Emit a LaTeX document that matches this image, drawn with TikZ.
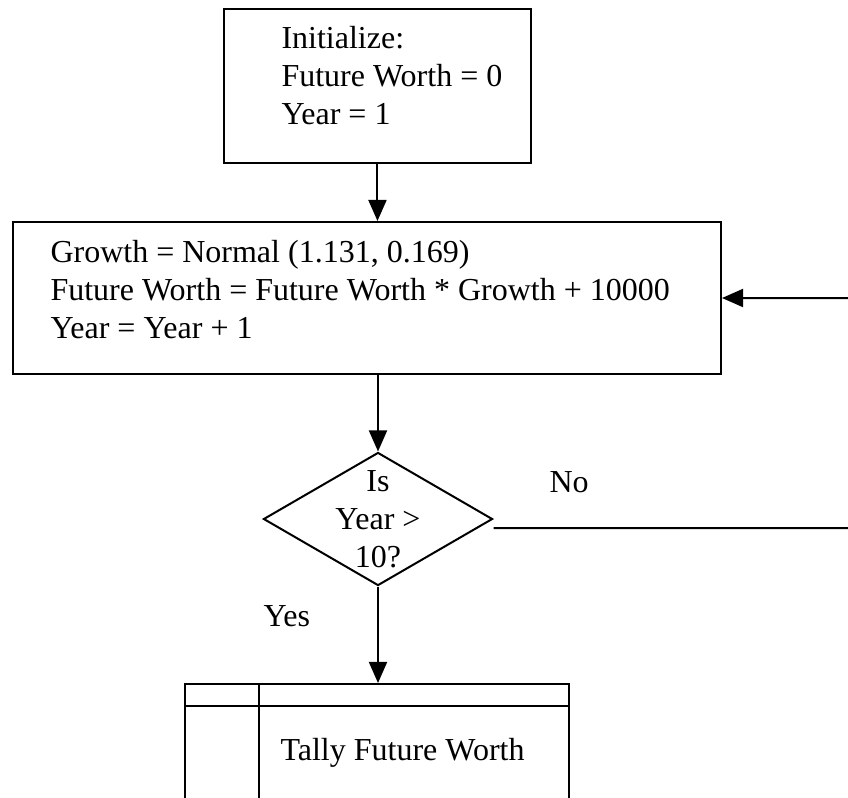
\documentclass[tikz,border=0pt]{standalone}
\usepackage{fontspec}
\setmainfont{Liberation Serif}
\usetikzlibrary{arrows.meta,positioning,shapes.geometric}

\begin{document}
\begin{tikzpicture}[
    x=0.375pt, y=-0.375pt,
    box/.style={rectangle, draw=black, line width=0.75pt, inner sep=0pt, anchor=north west},
    decision/.style={diamond, draw=black, line width=0.75pt, inner sep=0pt,
                     minimum width=85.9pt, minimum height=49.9pt},
    txt/.style={inner sep=0pt, align=left, font=\fontsize{12}{14.25}\selectfont},
    arrow/.style={-{Triangle[length=7.9pt, width=6.75pt]}, line width=0.75pt}
]
\useasboundingbox (0,0) rectangle (848,797);

% Top box - Initialize
\node[box, minimum width=115.1pt, minimum height=57.75pt] (init) at (223,8) {};
\node[txt, anchor=north west] (inittext) at (281,26) {Initialize:\\Future Worth = 0\\Year = 1};

% Middle box - Growth step
\node[box, minimum width=265.5pt, minimum height=57pt] (grow) at (12,221) {};
\node[txt, anchor=north west] (growtext) at (50,240)
    {Growth = Normal (1.131, 0.169)\\Future Worth = Future Worth * Growth + 10000\\Year = Year + 1};

% Arrow from Initialize to Growth
\draw[arrow] (init.south) -- (init.south |- grow.north);

% Decision diamond
\node[decision] (dec) at (378,519) {};
\node[txt, align=center] (dectext) at (dec.center) {Is\\Year >\\10?};

% Arrow from Growth to decision
\draw[arrow] (dec.north |- grow.south) -- (dec.north);

% No branch loops back to Growth
\node[txt, anchor=base west] (no) at (549,492) {No};
\coordinate (loop) at (853,528);
\draw[arrow] ([yshift=-3.4pt]dec.east) -- (loop) |- (grow.east);

% Bottom box - Tally (runs off the page)
\node[box, minimum width=144pt, minimum height=49.5pt] (tally) at (184,683) {};
\draw[line width=0.75pt] (184,706) -- (568,706);
\draw[line width=0.75pt] (259,683) -- (259,815);
\node[txt, anchor=base west] (tallytext) at (280,760) {Tally Future Worth};

% Yes branch
\node[txt, anchor=base west] (yes) at (263,626) {Yes};
\draw[arrow] (dec.south) -- (dec.south |- tally.north);

\end{tikzpicture}
\end{document}
